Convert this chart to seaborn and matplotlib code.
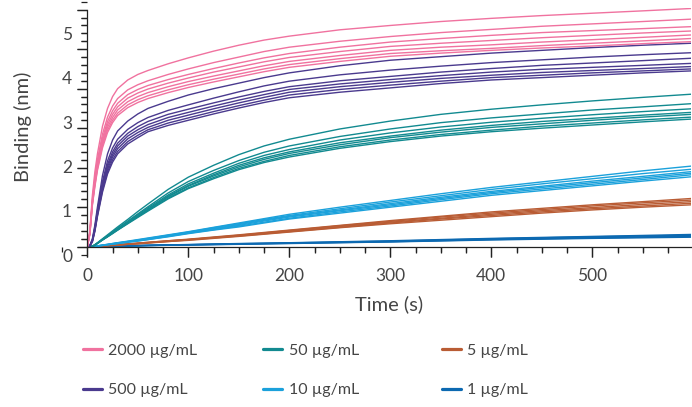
import numpy as np
import pandas as pd
import matplotlib
matplotlib.use("Agg")
import matplotlib.pyplot as plt
import seaborn as sns
from matplotlib.ticker import MultipleLocator, NullLocator
from matplotlib.lines import Line2D

# ---------------- data ----------------
time_s = [0, 2.5, 5, 7.5, 10, 15, 20, 25, 30, 40, 50, 60, 80, 100, 125, 150, 175, 200,
          250, 300, 350, 400, 450, 500, 550, 598]

conc_labels = ["2000 µg/mL", "500 µg/mL", "50 µg/mL", "10 µg/mL", "5 µg/mL", "1 µg/mL"]
conc_colors = ["#F0729F", "#4A3A8E", "#128A90", "#1BA1DB", "#B95C34", "#0C69B1"]

c2000 = [
    [0, 0.40, 1.30, 1.90, 2.35, 3.05, 3.50, 3.80, 4.00, 4.22, 4.36, 4.46, 4.63, 4.78, 4.95, 5.10, 5.23, 5.33, 5.49, 5.60, 5.70, 5.78, 5.85, 5.91, 5.97, 6.03],
    [0, 0.37, 1.20, 1.75, 2.20, 2.85, 3.28, 3.56, 3.75, 3.97, 4.10, 4.20, 4.36, 4.50, 4.66, 4.80, 4.94, 5.05, 5.20, 5.32, 5.42, 5.50, 5.58, 5.64, 5.70, 5.76],
    [0, 0.35, 1.15, 1.68, 2.12, 2.75, 3.17, 3.44, 3.63, 3.85, 3.98, 4.08, 4.23, 4.36, 4.51, 4.65, 4.78, 4.89, 5.05, 5.18, 5.27, 5.35, 5.42, 5.47, 5.52, 5.57],
    [0, 0.34, 1.12, 1.64, 2.07, 2.68, 3.09, 3.35, 3.54, 3.76, 3.89, 3.99, 4.14, 4.27, 4.42, 4.55, 4.68, 4.79, 4.94, 5.07, 5.15, 5.22, 5.29, 5.35, 5.41, 5.46],
    [0, 0.33, 1.10, 1.60, 2.02, 2.62, 3.02, 3.27, 3.46, 3.67, 3.80, 3.90, 4.05, 4.18, 4.32, 4.45, 4.58, 4.69, 4.84, 4.97, 5.05, 5.11, 5.18, 5.24, 5.30, 5.36],
    [0, 0.32, 1.07, 1.56, 1.97, 2.56, 2.95, 3.20, 3.38, 3.59, 3.72, 3.82, 3.97, 4.10, 4.24, 4.37, 4.50, 4.61, 4.76, 4.89, 4.96, 5.02, 5.09, 5.15, 5.21, 5.27],
    [0, 0.31, 1.05, 1.52, 1.93, 2.50, 2.89, 3.14, 3.32, 3.52, 3.65, 3.75, 3.90, 4.03, 4.17, 4.30, 4.43, 4.54, 4.69, 4.82, 4.90, 4.97, 5.03, 5.08, 5.14, 5.19],
]
c500 = [
    [0, 0.03, 0.20, 0.55, 1.00, 1.80, 2.35, 2.70, 2.93, 3.18, 3.36, 3.50, 3.68, 3.84, 4.00, 4.14, 4.28, 4.40, 4.58, 4.72, 4.81, 4.90, 4.97, 5.04, 5.10, 5.15],
    [0, 0.03, 0.18, 0.50, 0.92, 1.65, 2.17, 2.50, 2.72, 2.97, 3.14, 3.27, 3.45, 3.59, 3.76, 3.92, 4.07, 4.19, 4.35, 4.47, 4.57, 4.66, 4.73, 4.80, 4.86, 4.91],
    [0, 0.02, 0.16, 0.47, 0.88, 1.58, 2.08, 2.40, 2.62, 2.87, 3.04, 3.17, 3.35, 3.48, 3.64, 3.79, 3.93, 4.05, 4.20, 4.31, 4.42, 4.51, 4.59, 4.65, 4.71, 4.77],
    [0, 0.02, 0.15, 0.45, 0.85, 1.53, 2.02, 2.33, 2.55, 2.80, 2.96, 3.09, 3.27, 3.40, 3.56, 3.71, 3.85, 3.98, 4.12, 4.23, 4.33, 4.42, 4.49, 4.54, 4.59, 4.64],
    [0, 0.02, 0.14, 0.43, 0.82, 1.48, 1.96, 2.27, 2.48, 2.73, 2.89, 3.02, 3.20, 3.33, 3.49, 3.64, 3.78, 3.91, 4.05, 4.16, 4.26, 4.34, 4.41, 4.46, 4.51, 4.56],
    [0, 0.02, 0.13, 0.41, 0.79, 1.43, 1.90, 2.20, 2.41, 2.66, 2.82, 2.96, 3.13, 3.26, 3.42, 3.57, 3.71, 3.84, 3.98, 4.09, 4.19, 4.28, 4.34, 4.40, 4.45, 4.50],
    [0, 0.02, 0.12, 0.39, 0.76, 1.38, 1.84, 2.14, 2.35, 2.60, 2.76, 2.91, 3.07, 3.20, 3.36, 3.51, 3.65, 3.77, 3.91, 4.02, 4.13, 4.22, 4.28, 4.34, 4.40, 4.45],
]
c50 = [
    [0, 0, 0.01, 0.05, 0.10, 0.20, 0.30, 0.40, 0.50, 0.69, 0.89, 1.08, 1.45, 1.76, 2.06, 2.33, 2.55, 2.72, 2.98, 3.18, 3.35, 3.48, 3.59, 3.69, 3.78, 3.86],
    [0, 0, 0.01, 0.05, 0.09, 0.19, 0.28, 0.37, 0.47, 0.65, 0.83, 1.01, 1.36, 1.65, 1.93, 2.18, 2.39, 2.55, 2.79, 2.98, 3.14, 3.26, 3.36, 3.46, 3.54, 3.62],
    [0, 0, 0.01, 0.05, 0.09, 0.18, 0.27, 0.36, 0.45, 0.62, 0.81, 0.98, 1.31, 1.59, 1.86, 2.11, 2.31, 2.46, 2.70, 2.88, 3.03, 3.15, 3.25, 3.34, 3.42, 3.49],
    [0, 0, 0.01, 0.04, 0.09, 0.18, 0.26, 0.35, 0.44, 0.61, 0.78, 0.95, 1.28, 1.55, 1.82, 2.06, 2.25, 2.40, 2.63, 2.80, 2.95, 3.07, 3.17, 3.25, 3.33, 3.40],
    [0, 0, 0.01, 0.04, 0.09, 0.17, 0.26, 0.35, 0.43, 0.60, 0.77, 0.94, 1.26, 1.53, 1.79, 2.02, 2.21, 2.36, 2.58, 2.76, 2.90, 3.02, 3.11, 3.20, 3.28, 3.35],
    [0, 0, 0.01, 0.04, 0.08, 0.17, 0.25, 0.34, 0.42, 0.59, 0.76, 0.92, 1.23, 1.49, 1.75, 1.98, 2.16, 2.31, 2.53, 2.70, 2.84, 2.95, 3.05, 3.13, 3.21, 3.28],
    [0, 0, 0.01, 0.04, 0.08, 0.17, 0.25, 0.33, 0.42, 0.58, 0.74, 0.90, 1.21, 1.47, 1.72, 1.95, 2.13, 2.27, 2.49, 2.66, 2.80, 2.91, 3.00, 3.08, 3.16, 3.23],
]
c10 = [
    [0, 0, 0, 0.01, 0.02, 0.04, 0.06, 0.08, 0.10, 0.14, 0.18, 0.22, 0.30, 0.38, 0.49, 0.60, 0.71, 0.82, 1.00, 1.17, 1.34, 1.50, 1.64, 1.78, 1.92, 2.04],
    [0, 0, 0, 0.01, 0.02, 0.04, 0.06, 0.08, 0.10, 0.13, 0.17, 0.21, 0.29, 0.37, 0.48, 0.58, 0.69, 0.79, 0.96, 1.13, 1.29, 1.45, 1.59, 1.72, 1.85, 1.96],
    [0, 0, 0, 0.01, 0.02, 0.04, 0.05, 0.07, 0.09, 0.13, 0.16, 0.20, 0.28, 0.36, 0.46, 0.56, 0.67, 0.77, 0.93, 1.09, 1.25, 1.40, 1.53, 1.66, 1.78, 1.90],
    [0, 0, 0, 0.01, 0.02, 0.03, 0.05, 0.07, 0.09, 0.12, 0.16, 0.19, 0.27, 0.35, 0.45, 0.54, 0.65, 0.75, 0.91, 1.06, 1.22, 1.37, 1.50, 1.62, 1.74, 1.86],
    [0, 0, 0, 0.01, 0.02, 0.03, 0.05, 0.07, 0.08, 0.12, 0.15, 0.18, 0.26, 0.34, 0.43, 0.52, 0.62, 0.72, 0.88, 1.03, 1.19, 1.34, 1.46, 1.58, 1.70, 1.82],
    [0, 0, 0, 0.00, 0.01, 0.03, 0.05, 0.06, 0.08, 0.11, 0.14, 0.18, 0.25, 0.33, 0.42, 0.50, 0.60, 0.70, 0.85, 1.00, 1.15, 1.30, 1.42, 1.54, 1.66, 1.77],
]
c5 = [
    [0, 0, 0, 0.01, 0.01, 0.02, 0.03, 0.04, 0.05, 0.07, 0.09, 0.11, 0.15, 0.19, 0.245, 0.30, 0.36, 0.42, 0.54, 0.66, 0.77, 0.88, 0.97, 1.06, 1.14, 1.22],
    [0, 0, 0, 0.01, 0.01, 0.02, 0.03, 0.04, 0.05, 0.07, 0.09, 0.11, 0.15, 0.18, 0.235, 0.29, 0.35, 0.41, 0.53, 0.64, 0.75, 0.85, 0.94, 1.03, 1.11, 1.18],
    [0, 0, 0, 0.00, 0.01, 0.02, 0.03, 0.04, 0.05, 0.06, 0.08, 0.10, 0.14, 0.18, 0.23, 0.28, 0.335, 0.39, 0.51, 0.62, 0.72, 0.82, 0.91, 0.99, 1.07, 1.14],
    [0, 0, 0, 0.00, 0.01, 0.02, 0.03, 0.03, 0.04, 0.06, 0.08, 0.10, 0.13, 0.17, 0.22, 0.27, 0.325, 0.38, 0.49, 0.60, 0.70, 0.79, 0.88, 0.96, 1.03, 1.10],
    [0, 0, 0, 0.00, 0.01, 0.02, 0.02, 0.03, 0.04, 0.06, 0.07, 0.09, 0.13, 0.16, 0.21, 0.26, 0.315, 0.37, 0.48, 0.58, 0.67, 0.76, 0.85, 0.93, 1.00, 1.06],
]
c1 = [
    [0, 0, 0, 0.00, 0.005, 0.01, 0.01, 0.015, 0.02, 0.025, 0.03, 0.035, 0.045, 0.055, 0.068, 0.08, 0.09, 0.10, 0.125, 0.15, 0.18, 0.21, 0.235, 0.26, 0.285, 0.31],
    [0, 0, 0, 0.00, 0.005, 0.01, 0.01, 0.015, 0.02, 0.025, 0.03, 0.035, 0.045, 0.050, 0.063, 0.075, 0.085, 0.095, 0.118, 0.14, 0.17, 0.20, 0.225, 0.25, 0.27, 0.29],
    [0, 0, 0, 0.00, 0.005, 0.005, 0.01, 0.01, 0.015, 0.02, 0.025, 0.03, 0.04, 0.050, 0.06, 0.07, 0.08, 0.09, 0.11, 0.13, 0.16, 0.19, 0.21, 0.23, 0.25, 0.27],
    [0, 0, 0, 0.00, 0.00, 0.005, 0.01, 0.01, 0.015, 0.02, 0.025, 0.03, 0.04, 0.045, 0.055, 0.065, 0.075, 0.085, 0.105, 0.125, 0.152, 0.18, 0.20, 0.22, 0.24, 0.26],
    [0, 0, 0, 0.00, 0.00, 0.005, 0.005, 0.01, 0.01, 0.015, 0.02, 0.025, 0.035, 0.04, 0.05, 0.06, 0.07, 0.08, 0.10, 0.12, 0.145, 0.17, 0.19, 0.21, 0.225, 0.24],
]

x_ticks = [0, 100, 200, 300, 400, 500]
y_tick_labels = ["0", "1", "2", "3", "4", "5"]

# ---------------- build long-form table ----------------
rows = []
for label, curves in zip(conc_labels, [c2000, c500, c50, c10, c5, c1]):
    for i, curve in enumerate(curves):
        for t, v in zip(time_s, curve):
            rows.append({"time": t, "binding": v, "conc": label, "curve": f"{label}-{i}"})
df = pd.DataFrame(rows)

# ---------------- style ----------------
sns.set_theme(style="ticks")
plt.rcParams["font.family"] = ["Lato", "DejaVu Sans"]
text_color = "#454545"
axis_color = "#222222"

fig = plt.figure(figsize=(6.92, 4.07), dpi=100)
# main plotting axes (data 0 sits on the bottom edge)
ax = fig.add_axes([0.1262, 0.3939, 0.8728, 0.5872])

palette = dict(zip(conc_labels, conc_colors))
sns.lineplot(data=df, x="time", y="binding", hue="conc", hue_order=conc_labels[::-1],
             units="curve", estimator=None, palette=palette, linewidth=1.0,
             legend=False, ax=ax)

ax.set_xlim(0, 598)
ax.set_ylim(0, 6.05)

for s in ["top", "right"]:
    ax.spines[s].set_visible(False)
ax.spines["left"].set_bounds(0, 6)
for s in ["left", "bottom"]:
    ax.spines[s].set_color(axis_color)
    ax.spines[s].set_linewidth(0.9)

# x ticks
ax.set_xticks(x_ticks)
ax.xaxis.set_minor_locator(MultipleLocator(25))
ax.tick_params(axis="x", which="major", length=7.2, width=0.9, color=axis_color,
               labelsize=12.5, labelcolor=text_color, pad=8, direction="out")
ax.tick_params(axis="x", which="minor", length=4, width=0.9, color=axis_color, direction="out")

# y tick marks: integers long, 0.2 steps short; labels drawn on a separate label axis
ax.set_yticks(np.arange(0, 7))
ax.yaxis.set_minor_locator(MultipleLocator(0.2))
ax.tick_params(axis="y", which="major", length=7.5, width=0.9, color=axis_color,
               direction="out", labelleft=False)
ax.tick_params(axis="y", which="minor", length=4.5, width=0.9, color=axis_color, direction="out")

# tick marks also drawn as plain line segments (robust in any renderer)
ax_h_px = 0.5872 * 407
ax_w_px = 0.8728 * 692
x_minor = [v for v in ax.xaxis.get_minorticklocs() if v not in x_ticks]
y_major = list(ax.get_yticks())
y_minor = [v for v in ax.yaxis.get_minorticklocs() if min(abs(v - m) for m in y_major) > 1e-6]
ax.vlines(x_ticks, -10.0 / ax_h_px, 0, transform=ax.get_xaxis_transform(), clip_on=False,
          colors=axis_color, linewidth=0.9)
ax.vlines(x_minor, -5.6 / ax_h_px, 0, transform=ax.get_xaxis_transform(), clip_on=False,
          colors=axis_color, linewidth=0.9)
ax.hlines(y_major, -10.4 / ax_w_px, 0, transform=ax.get_yaxis_transform(), clip_on=False,
          colors=axis_color, linewidth=0.9)
ax.hlines(y_minor, -6.25 / ax_w_px, 0, transform=ax.get_yaxis_transform(), clip_on=False,
          colors=axis_color, linewidth=0.9)

# label-only axis reproducing where the reference prints its y numbers
ax_lab = fig.add_axes([0.1262, 0.3408, 0.001, 0.6422])
ax_lab.set_ylim(-0.3, 5.6)
ax_lab.set_yticks(range(len(y_tick_labels)), labels=y_tick_labels)
ax_lab.yaxis.set_minor_locator(NullLocator())
ax_lab.tick_params(axis="y", which="both", length=0, labelsize=12.5, labelcolor=text_color, pad=11)
ax_lab.xaxis.set_visible(False)
ax_lab.patch.set_visible(False)
for s in ax_lab.spines.values():
    s.set_visible(False)

ax.set_xlabel("Time (s)", fontsize=14.5, color=text_color)
ax.set_ylabel("Binding (nm)", fontsize=14.5, color=text_color)
ax.xaxis.set_label_coords(0.5, -0.205)
ax.yaxis.set_label_coords(-0.092, 0.5)

# legends: three columns at fixed positions
col_x = [0.1195, 0.3805, 0.6383]
for c, xpos in enumerate(col_x):
    labs = conc_labels[2 * c: 2 * c + 2]
    handles = [Line2D([], [], color=palette[l], linewidth=2.3) for l in labs]
    fig.legend(handles, labs, loc="center left", bbox_to_anchor=(xpos, 0.0897),
               frameon=False, borderpad=0, borderaxespad=0, handlelength=1.2,
               handletextpad=0.4, labelspacing=1.6, fontsize=11.5, labelcolor=text_color)

fig.savefig("out.png", dpi=100)
